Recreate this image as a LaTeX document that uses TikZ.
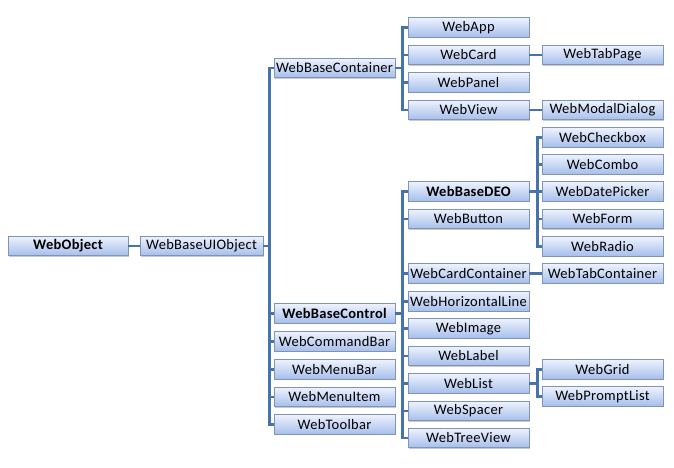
\documentclass[tikz,border=0pt]{standalone}
\usepackage{fontspec}
\setmainfont{Carlito}[LetterSpace=2]
\usetikzlibrary{shadows}
\definecolor{linec}{HTML}{4673AC}
\definecolor{boxdraw}{HTML}{8094B4}
\definecolor{boxtop}{HTML}{EEF2FD}
\definecolor{boxbot}{HTML}{A5BEEC}
\tikzset{
  cls/.style={rectangle, draw=boxdraw, line width=0.6pt, top color=boxtop, bottom color=boxbot,
    minimum width=121pt, minimum height=19.5pt, inner sep=0pt,
    font=\fontsize{14.5pt}{16pt}\selectfont,
    drop shadow={shadow xshift=1.2pt, shadow yshift=-1.2pt, fill=black!35, opacity=0.6}},
  clsb/.style={cls, font=\fontsize{14.5pt}{16pt}\selectfont\bfseries},
  conn/.style={draw=linec, line width=2.5pt, line join=miter}
}
\begin{document}
\begin{tikzpicture}[x=1pt,y=-1pt]
\useasboundingbox (0,0) rectangle (674,467);
% level 0/1
\node[clsb, minimum width=120pt] (obj) at (68,246) {WebObject};
\node[cls, minimum width=123pt] (ui) at (201.5,246) {WebBaseUIObject};
% level 2
\node[cls] (cont) at (334.5,68) {WebBaseContainer};
\node[clsb] (ctrl) at (334.5,313.5) {WebBaseControl};
\node[cls] (cmd) at (334.5,341.5) {WebCommandBar};
\node[cls] (mbar) at (334.5,369.5) {WebMenuBar};
\node[cls] (mitem) at (334.5,397) {WebMenuItem};
\node[cls] (tool) at (334.5,424.5) {WebToolbar};
% level 3 (container)
\node[cls] (app) at (468.5,27.5) {WebApp};
\node[cls] (card) at (468.5,55) {WebCard};
\node[cls] (panel) at (468.5,82.5) {WebPanel};
\node[cls] (view) at (468.5,110) {WebView};
% level 3 (control)
\node[clsb] (deo) at (468.5,191.5) {WebBaseDEO};
\node[cls] (btn) at (468.5,219) {WebButton};
\node[cls] (cardc) at (468.5,273.5) {WebCardContainer};
\node[cls] (hline) at (468.5,301.5) {WebHorizontalLine};
\node[cls] (img) at (468.5,328.5) {WebImage};
\node[cls] (lbl) at (468.5,356) {WebLabel};
\node[cls] (list) at (468.5,383.5) {WebList};
\node[cls] (spc) at (468.5,411) {WebSpacer};
\node[cls] (tree) at (468.5,438) {WebTreeView};
% level 4
\node[cls] (tabp) at (602.5,55) {WebTabPage};
\node[cls] (modal) at (602.5,110) {WebModalDialog};
\node[cls] (chk) at (602.5,137.5) {WebCheckbox};
\node[cls] (combo) at (602.5,164.5) {WebCombo};
\node[cls] (date) at (602.5,191.5) {WebDatePicker};
\node[cls] (form) at (602.5,219) {WebForm};
\node[cls] (radio) at (602.5,246.5) {WebRadio};
\node[cls] (tabc) at (602.5,273.5) {WebTabContainer};
\node[cls] (grid) at (602.5,369.5) {WebGrid};
\node[cls] (prompt) at (602.5,396.5) {WebPromptList};
% connectors
\draw[conn] (obj.east) -- (ui.west);
\foreach \c in {cont,ctrl,cmd,mbar,mitem,tool}
  \draw[conn] (ui.east) -- ++(6,0) |- (\c.west);
\foreach \c in {app,card,panel,view}
  \draw[conn] (cont.east) -- ++(7,0) |- (\c.west);
\foreach \c in {deo,btn,cardc,hline,img,lbl,list,spc,tree}
  \draw[conn] (ctrl.east) -- ++(7,0) |- (\c.west);
\foreach \c in {chk,combo,date,form,radio}
  \draw[conn] (deo.east) -- ++(8,0) |- (\c.west);
\foreach \c in {grid,prompt}
  \draw[conn] (list.east) -- ++(8,0) |- (\c.west);
\draw[conn] (card.east) -- (tabp.west);
\draw[conn] (view.east) -- (modal.west);
\draw[conn] (cardc.east) -- (tabc.west);
\end{tikzpicture}
\end{document}
